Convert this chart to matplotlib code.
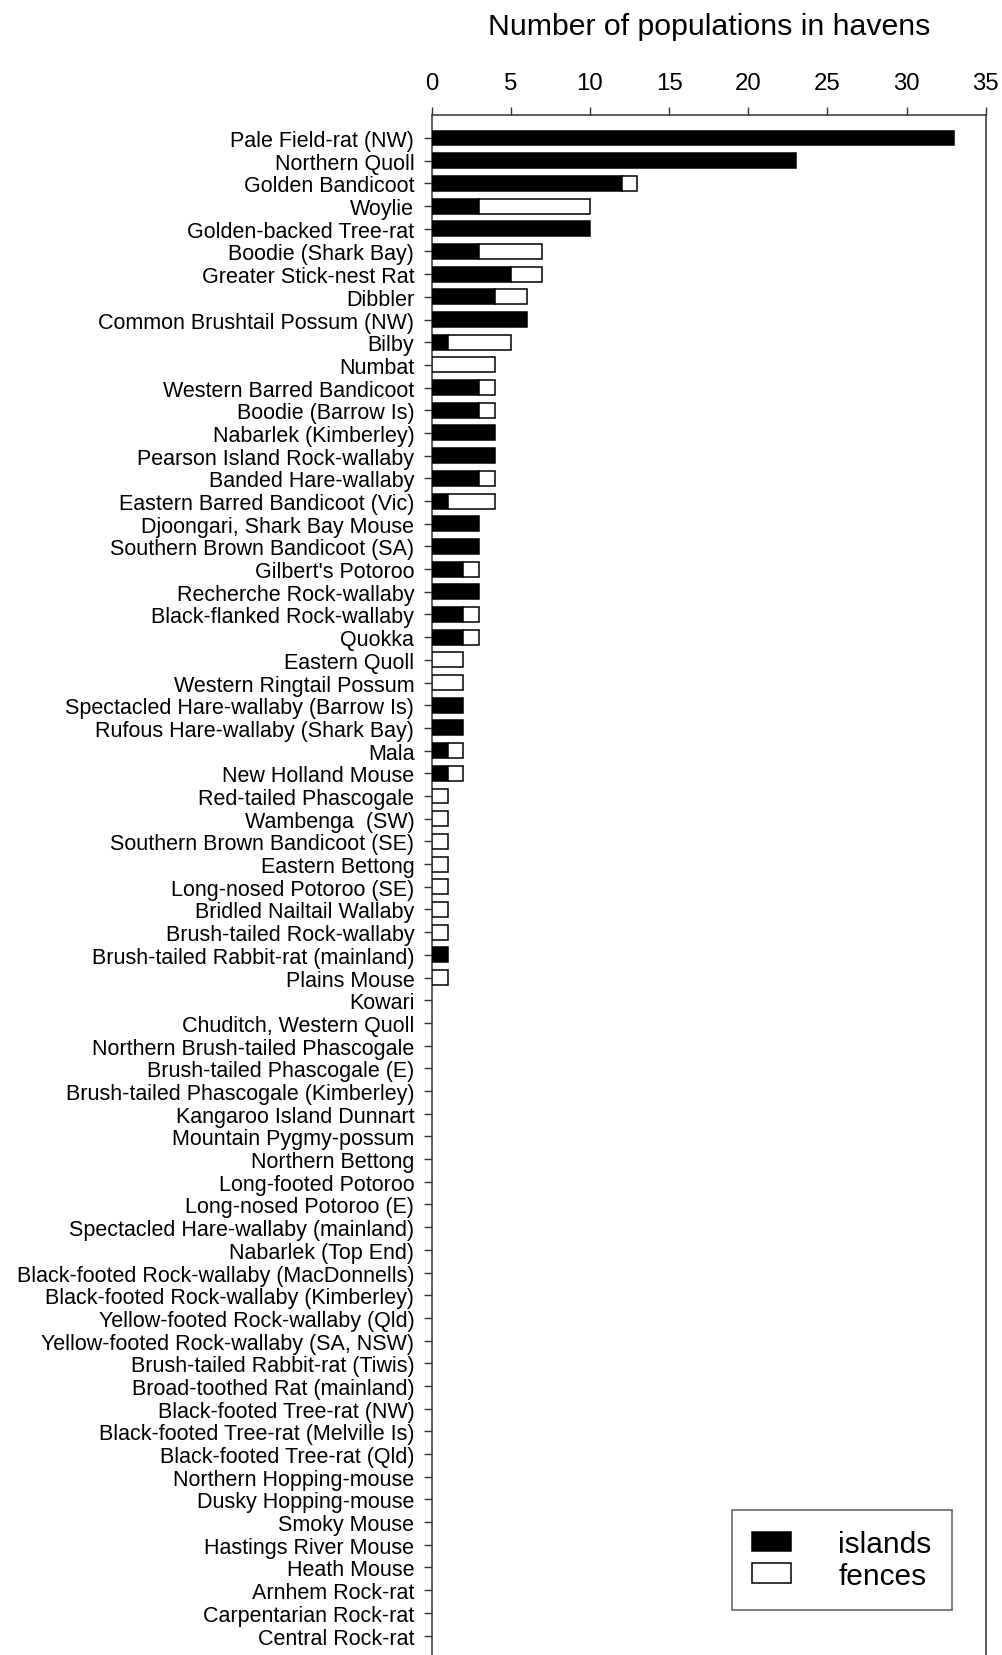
#!/usr/bin/env python3
"""Populations of threatened mammals in havens (islands vs fences)."""

import matplotlib

matplotlib.use("Agg")
import matplotlib.pyplot as plt
from matplotlib.patches import Patch

SPECIES = [
    "Pale Field-rat (NW)", "Northern Quoll", "Golden Bandicoot", "Woylie",
    "Golden-backed Tree-rat", "Boodie (Shark Bay)", "Greater Stick-nest Rat",
    "Dibbler", "Common Brushtail Possum (NW)", "Bilby", "Numbat",
    "Western Barred Bandicoot", "Boodie (Barrow Is)", "Nabarlek (Kimberley)",
    "Pearson Island Rock-wallaby", "Banded Hare-wallaby",
    "Eastern Barred Bandicoot (Vic)", "Djoongari, Shark Bay Mouse",
    "Southern Brown Bandicoot (SA)", "Gilbert's Potoroo",
    "Recherche Rock-wallaby", "Black-flanked Rock-wallaby", "Quokka",
    "Eastern Quoll", "Western Ringtail Possum",
    "Spectacled Hare-wallaby (Barrow Is)", "Rufous Hare-wallaby (Shark Bay)",
    "Mala", "New Holland Mouse", "Red-tailed Phascogale", "Wambenga  (SW)",
    "Southern Brown Bandicoot (SE)", "Eastern Bettong",
    "Long-nosed Potoroo (SE)", "Bridled Nailtail Wallaby",
    "Brush-tailed Rock-wallaby", "Brush-tailed Rabbit-rat (mainland)",
    "Plains Mouse", "Kowari", "Chuditch, Western Quoll",
    "Northern Brush-tailed Phascogale", "Brush-tailed Phascogale (E)",
    "Brush-tailed Phascogale (Kimberley)", "Kangaroo Island Dunnart",
    "Mountain Pygmy-possum", "Northern Bettong", "Long-footed Potoroo",
    "Long-nosed Potoroo (E)", "Spectacled Hare-wallaby (mainland)",
    "Nabarlek (Top End)", "Black-footed Rock-wallaby (MacDonnells)",
    "Black-footed Rock-wallaby (Kimberley)", "Yellow-footed Rock-wallaby (Qld)",
    "Yellow-footed Rock-wallaby (SA, NSW)", "Brush-tailed Rabbit-rat (Tiwis)",
    "Broad-toothed Rat (mainland)", "Black-footed Tree-rat (NW)",
    "Black-footed Tree-rat (Melville Is)", "Black-footed Tree-rat (Qld)",
    "Northern Hopping-mouse", "Dusky Hopping-mouse", "Smoky Mouse",
    "Hastings River Mouse", "Heath Mouse", "Arnhem Rock-rat",
    "Carpentarian Rock-rat", "Central Rock-rat",
]

ISLANDS = [
    33, 23, 12, 3, 10, 3, 5, 4, 6, 1, 0,
    3, 3, 4, 4, 3, 1, 3, 3, 2, 3, 2, 2,
    0, 0, 2, 2, 1, 1, 0, 0, 0, 0, 0, 0, 0, 1, 0,
] + [0] * 29

FENCES = [
    0, 0, 1, 7, 0, 4, 2, 2, 0, 4, 4,
    1, 1, 0, 0, 1, 3, 0, 0, 1, 0, 1, 1,
    2, 2, 0, 0, 1, 1, 1, 1, 1, 1, 1, 1, 1, 0, 1,
] + [0] * 29

XTICKS = [0, 5, 10, 15, 20, 25, 30, 35]


def main() -> None:
    plt.rcParams["font.family"] = ["Liberation Sans", "DejaVu Sans"]

    W, H = 1003, 1656
    fig = plt.figure(figsize=(W / 100, H / 100), dpi=100)
    left, right, top = 431.7, 985.7, 116.0
    ax = fig.add_axes([left / W, 0.0, (right - left) / W, 1 - top / H])

    pos = list(range(len(SPECIES)))
    bh = 0.66
    isl_pos = [p for p, v in zip(pos, ISLANDS) if v > 0]
    isl_val = [v for v in ISLANDS if v > 0]
    fen_pos = [p for p, v in zip(pos, FENCES) if v > 0]
    fen_val = [v for v in FENCES if v > 0]
    fen_left = [ISLANDS[p] for p in fen_pos]

    ax.barh(isl_pos, isl_val, height=bh, color="black", edgecolor="black",
            linewidth=1.1, zorder=3)
    ax.barh(fen_pos, fen_val, left=fen_left, height=bh, color="white",
            edgecolor="black", linewidth=1.1, zorder=3)

    row0, step = 139.0, 22.69
    ax.set_ylim((H - row0) / step, -(row0 - top) / step)
    ax.set_xlim(0, 35)

    ax.set_yticks(pos)
    ax.set_yticklabels(SPECIES, fontsize=15.5)
    ax.set_xticks(XTICKS)
    ax.xaxis.tick_top()
    ax.xaxis.set_label_position("top")
    ax.set_xlabel("Number of populations in havens", fontsize=21.8, labelpad=27)

    ax.tick_params(axis="x", labelsize=17.3, length=5.8, width=1.0,
                   direction="out", pad=9.5, color="#333333")
    ax.tick_params(axis="y", length=5.5, width=1.0, direction="out", pad=7,
                   color="#333333")

    ax.spines["bottom"].set_visible(False)
    for side in ("top", "left", "right"):
        ax.spines[side].set_color("#333333")
        ax.spines[side].set_linewidth(1.1)

    handles = [
        Patch(facecolor="black", edgecolor="black", linewidth=1.1, label="islands"),
        Patch(facecolor="white", edgecolor="black", linewidth=1.1, label="fences"),
    ]
    leg = fig.legend(handles=handles, loc="lower right",
                     bbox_to_anchor=(952 / W, 1 - 1611 / H),
                     bbox_transform=fig.transFigure, fontsize=21.5,
                     frameon=True, fancybox=False, borderaxespad=0,
                     handlelength=1.3, handleheight=0.63, handletextpad=1.6,
                     labelspacing=0.12, borderpad=0.68)
    leg.get_frame().set_edgecolor("#333333")
    leg.get_frame().set_linewidth(1.1)

    fig.savefig("out.png", dpi=100)
    plt.close(fig)


if __name__ == "__main__":
    main()
